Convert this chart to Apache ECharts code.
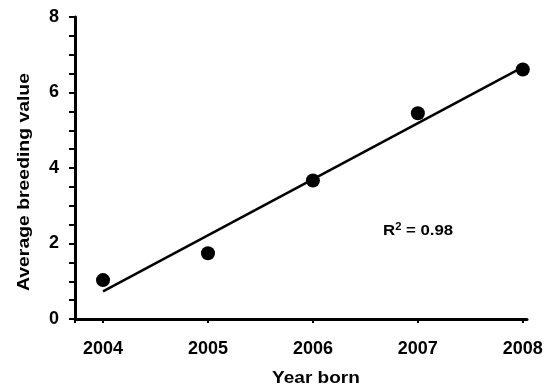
<!DOCTYPE html>
<html>
<head>
<meta charset="utf-8">
<script src="https://cdn.jsdelivr.net/npm/echarts@6/dist/echarts.min.js"></script>
<style>html,body{margin:0;padding:0;background:#fff;}#c{width:555px;height:389px;}</style>
</head>
<body>
<div id="c"></div>
<script>
var years = [2004, 2005, 2006, 2007, 2008];
var breedingValues = [1.03, 1.74, 3.67, 5.45, 6.61];
var trendYears = [2004, 2008];
var trendValues = [0.73, 6.67];
var yTicks = [0, 2, 4, 6, 8];
var r2Text = '0.98';

var chart = echarts.init(document.getElementById('c'), null, {renderer: 'canvas'});
var FONT = '"Liberation Sans", Arial, sans-serif';
var option = {
  animation: false,
  backgroundColor: '#fff',
  grid: {left: 75, top: 17, right: 28, bottom: 70, containLabel: false},
  xAxis: {
    type: 'value', min: 2003.733, max: 2008.04,
    axisLine: {lineStyle: {color: '#000', width: 3}},
    axisTick: {show: true, length: 4, lineStyle: {color: '#000', width: 2}, customValues: [2003.733].concat(years)},
    axisLabel: {customValues: years, margin: 21, color: '#000', fontSize: 18, fontWeight: 'bold', fontFamily: FONT,
      formatter: function (v) { return String(Math.round(v)); }},
    splitLine: {show: false}
  },
  yAxis: {
    type: 'value', min: 0, max: 8, interval: 2,
    axisLine: {show: true, lineStyle: {color: '#000', width: 3}},
    axisTick: {show: true, length: 6, lineStyle: {color: '#000', width: 2}},
    minorTick: {show: true, splitNumber: 4, length: 6, lineStyle: {color: '#000', width: 2}},
    axisLabel: {margin: 16, color: '#000', fontSize: 18, fontWeight: 'bold', fontFamily: FONT},
    splitLine: {show: false}
  },
  graphic: [
    {type: 'text', rotation: Math.PI / 2, scaleX: 1.14,
      style: {text: 'Average breeding value', fill: '#000', font: 'bold 17px ' + FONT, textAlign: 'center', textVerticalAlign: 'middle'},
      x: 24, y: 182},
    {type: 'text', scaleX: 1.12, style: {text: 'Year born', fill: '#000', font: 'bold 17px ' + FONT, textAlign: 'center', textVerticalAlign: 'middle'},
      x: 316, y: 378},
    {type: 'text', x: 383, y: 231, scaleX: 1.12,
      style: {rich: {a: {fontSize: 15, fontWeight: 'bold', fontFamily: FONT, fill: '#000'},
                     s: {fontSize: 10, fontWeight: 'bold', fontFamily: FONT, fill: '#000', verticalAlign: 'top', padding: [0, 0, 7, 0]}},
              text: '{a|R}{s|2}{a| = ' + r2Text + '}', textVerticalAlign: 'middle'}}
  ],
  series: [
    {type: 'line', data: trendYears.map(function (x, i) { return [x, trendValues[i]]; }),
      symbol: 'none', lineStyle: {color: '#000', width: 2.5}, z: 2},
    {type: 'scatter', data: years.map(function (x, i) { return [x, breedingValues[i]]; }),
      symbolSize: 14, itemStyle: {color: '#000', opacity: 1}, z: 3}
  ]
};
chart.setOption(option);
</script>
</body>
</html>
